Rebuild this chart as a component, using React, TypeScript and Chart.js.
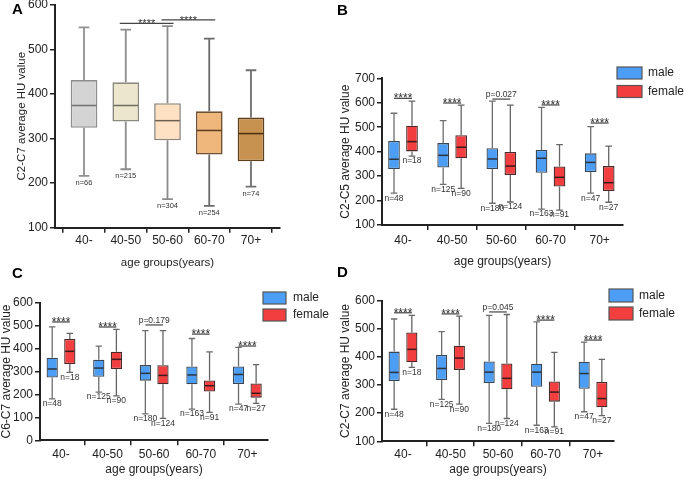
import React, { useEffect, useRef } from 'react';
import { Chart, registerables } from 'chart.js';
Chart.register(...registerables);

// ---------------- DATA ----------------
const ageGroups = ['40-', '40-50', '50-60', '60-70', '70+'];
const seriesNames = ['male', 'female'];

// Panel A: C2-C7, all subjects
const aMin = [216, 231, 164, 149, 192];
const aQ1 = [324, 338, 296, 264, 249];
const aMed = [374, 374, 340, 318, 311];
const aQ3 = [431, 426, 379, 361, 347];
const aMax = [549, 544, 552, 524, 453];
const aN = [66, 215, 304, 254, 74];
const aSigText = ['****', '****'];
const aSigY = [558, 566];

// Panel B: C2-C5 by sex
const bMaleMin = [230, 266, 189, 165, 230];
const bMaleQ1 = [329, 335, 329, 314, 317];
const bMaleMed = [369, 385, 370, 373, 356];
const bMaleQ3 = [444, 435, 414, 407, 393];
const bMaleMax = [557, 527, 607, 581, 502];
const bFemaleMin = [382, 250, 194, 161, 193];
const bFemaleQ1 = [401, 373, 305, 257, 239];
const bFemaleMed = [441, 418, 341, 295, 273];
const bFemaleQ3 = [506, 467, 399, 339, 341];
const bFemaleMax = [607, 590, 590, 429, 423];
const bSigText = ['****', '****', 'p=0.027', '****', '****'];
const bSigY = [618, 599, 615, 591, 517];

// Panel C: C6-C7 by sex
const cMaleMin = [181, 210, 115, 136, 158];
const cMaleQ1 = [274, 277, 260, 244, 245];
const cMaleMed = [311, 315, 292, 285, 287];
const cMaleQ3 = [360, 351, 328, 322, 322];
const cMaleMax = [495, 411, 478, 444, 405];
const cFemaleMin = [296, 194, 96, 122, 161];
const cFemaleQ1 = [333, 311, 244, 213, 186];
const cFemaleMed = [388, 353, 283, 238, 205];
const cFemaleQ3 = [442, 386, 327, 261, 248];
const cFemaleMax = [466, 484, 478, 386, 330];
const cSigText = ['****', '****', 'p=0.179', '****', '****'];
const cSigY = [516, 494, 503, 463, 411];

// Panel D: C2-C7 by sex
const dMaleMin = [214, 249, 164, 157, 205];
const dMaleQ1 = [314, 318, 307, 294, 287];
const dMaleMed = [345, 359, 346, 346, 341];
const dMaleQ3 = [419, 407, 384, 376, 383];
const dMaleMax = [535, 490, 548, 525, 453];
const dFemaleMin = [363, 232, 181, 151, 191];
const dFemaleQ1 = [381, 354, 285, 241, 221];
const dFemaleMed = [427, 396, 324, 275, 252];
const dFemaleQ3 = [487, 440, 377, 313, 311];
const dFemaleMax = [548, 545, 551, 416, 391];
const dSigText = ['****', '****', 'p=0.045', '****', '****'];
const dSigY = [557, 553, 560, 531, 460];

const maleN = [48, 125, 180, 163, 47];
const femaleN = [18, 90, 124, 91, 27];

// ---------------- STYLE ----------------
const FONT = '"Liberation Sans", Arial, Helvetica, sans-serif';
const M = 40;
const PW = 685;
const PH = 480;
const MALE = '#4c9ef4';
const FEMALE = '#f23e3e';

type Stats = { min: number[]; q1: number[]; med: number[]; q3: number[]; max: number[]; n: number[] };
type Series = { label: string; stats: Stats; fill: any; border: any; whisker: any; median: any };
type Sig = { a: [number, number]; b: [number, number]; y: number; text: string; ext: number };
type Cfg = {
  letter: string; lx: number; ly: number;
  area: { l: number; t: number; r: number; b: number };
  yMin: number; yMax: number; xMin: number; xMax: number;
  yw: number; xh: number; yTitle: string; titleSize: number; xTickPad: number;
  series: Series[]; cp: number; bp: number;
  nFont: number; nOffset: number; capRatio: number; whiskerWidth: number; boxBorder: number;
  sig: Sig[]; starFont: number; pFont: number;
  legend?: { x: number; y: number; w: number; h: number; gap: number; tx: number };
};

const pick = (c: any, i: number) => (Array.isArray(c) ? c[i] : c);

const st = (min: number[], q1: number[], med: number[], q3: number[], max: number[], n: number[]): Stats => ({ min, q1, med, q3, max, n });

const sexSig = (texts: string[], ys: number[]): Sig[] =>
  texts.map((t, i) => ({ a: [0, i], b: [1, i], y: ys[i], text: t, ext: 0 }));

const sexSeries = (male: Stats, female: Stats): Series[] => [
  { label: seriesNames[0], stats: male, fill: MALE, border: '#3a4654', whisker: '#6e6e6e', median: '#2c3440' },
  { label: seriesNames[1], stats: female, fill: FEMALE, border: '#4a2a2a', whisker: '#666666', median: '#3a1a1a' },
];

const panels: Cfg[] = [
  {
    letter: 'A', lx: 12, ly: 14,
    area: { l: 55, t: 4.7, r: 280, b: 227.7 },
    yMin: 100, yMax: 600, xMin: -0.695, xMax: 4.695,
    yw: 39.9, xh: 42.2, yTitle: 'C2-C7 average HU value', titleSize: 11.5, xTickPad: 1,
    series: [{
      label: 'all', stats: st(aMin, aQ1, aMed, aQ3, aMax, aN),
      fill: ['#d4d4d4', '#ece7cc', '#fde1c2', '#f0b77d', '#c7914f'],
      border: ['#8e8e8e', '#8c8a80', '#8e857a', '#6e5238', '#5e4020'],
      whisker: ['#909090', '#8c8c8c', '#8c8c8c', '#6a6a6a', '#707070'],
      median: ['#707070', '#6e6c60', '#6e6050', '#5a3c1e', '#4a3010'],
    }],
    cp: 0.8, bp: 0.8, nFont: 7.5, nOffset: 7, capRatio: 0.4, whiskerWidth: 1.8, boxBorder: 1.6,
    sig: [
      { a: [0, 1], b: [0, 2], y: aSigY[0], text: aSigText[0], ext: 6 },
      { a: [0, 2], b: [0, 3], y: aSigY[1], text: aSigText[1], ext: 6 },
    ],
    starFont: 11, pFont: 8.5,
  },
  {
    letter: 'B', lx: 337, ly: 15,
    area: { l: 382, t: 78.3, r: 623, b: 225 },
    yMin: 100, yMax: 700, xMin: -0.427, xMax: 4.474,
    yw: 43.2, xh: 44.2, yTitle: 'C2-C5 average HU value', titleSize: 12, xTickPad: 3,
    series: sexSeries(
      st(bMaleMin, bMaleQ1, bMaleMed, bMaleQ3, bMaleMax, maleN),
      st(bFemaleMin, bFemaleQ1, bFemaleMed, bFemaleQ3, bFemaleMax, femaleN)),
    cp: 0.732, bp: 0.65, nFont: 8.5, nOffset: 5, capRatio: 0.57, whiskerWidth: 1.3, boxBorder: 1.3,
    sig: sexSig(bSigText, bSigY), starFont: 12, pFont: 8.5,
    legend: { x: 617, y: 67, w: 25, h: 12, gap: 18.5, tx: 648 },
  },
  {
    letter: 'C', lx: 12, ly: 278,
    area: { l: 40, t: 302.7, r: 268, b: 440.3 },
    yMin: 0, yMax: 600, xMin: -0.451, xMax: 4.444,
    yw: 40.2, xh: 36.9, yTitle: 'C6-C7 average HU value', titleSize: 12, xTickPad: 2.5,
    series: sexSeries(
      st(cMaleMin, cMaleQ1, cMaleMed, cMaleQ3, cMaleMax, maleN),
      st(cFemaleMin, cFemaleQ1, cFemaleMed, cFemaleQ3, cFemaleMax, femaleN)),
    cp: 0.756, bp: 0.64, nFont: 8.5, nOffset: 5, capRatio: 0.57, whiskerWidth: 1.3, boxBorder: 1.3,
    sig: sexSig(cSigText, cSigY), starFont: 12, pFont: 8.5,
    legend: { x: 263, y: 292, w: 23, h: 12, gap: 17, tx: 293 },
  },
  {
    letter: 'D', lx: 337, ly: 277,
    area: { l: 382, t: 300.7, r: 614, b: 441.3 },
    yMin: 100, yMax: 600, xMin: -0.442, xMax: 4.442,
    yw: 43.2, xh: 35.9, yTitle: 'C2-C7 average HU value', titleSize: 12, xTickPad: 1.5,
    series: sexSeries(
      st(dMaleMin, dMaleQ1, dMaleMed, dMaleQ3, dMaleMax, maleN),
      st(dFemaleMin, dFemaleQ1, dFemaleMed, dFemaleQ3, dFemaleMax, femaleN)),
    cp: 0.745, bp: 0.63, nFont: 8.5, nOffset: 5, capRatio: 0.57, whiskerWidth: 1.3, boxBorder: 1.3,
    sig: sexSig(dSigText, dSigY), starFont: 12, pFont: 8.5,
    legend: { x: 609, y: 289, w: 24, h: 13, gap: 18, tx: 639 },
  },
];

function makePlugin(cfg: Cfg) {
  return {
    id: 'boxExtras' + cfg.letter,
    afterDatasetsDraw(chart: any) {
      const ctx: CanvasRenderingContext2D = chart.ctx;
      const ys = chart.scales.y;
      cfg.series.forEach((s, si) => {
        const meta = chart.getDatasetMeta(si);
        meta.data.forEach((el: any, i: number) => {
          const cx = el.x;
          const w = el.width;
          const cap = w * cfg.capRatio;
          const pMin = ys.getPixelForValue(s.stats.min[i]);
          const pQ1 = ys.getPixelForValue(s.stats.q1[i]);
          const pMed = ys.getPixelForValue(s.stats.med[i]);
          const pQ3 = ys.getPixelForValue(s.stats.q3[i]);
          const pMax = ys.getPixelForValue(s.stats.max[i]);
          ctx.save();
          ctx.strokeStyle = pick(s.whisker, i);
          ctx.lineWidth = cfg.whiskerWidth;
          ctx.beginPath();
          ctx.moveTo(cx, pQ3); ctx.lineTo(cx, pMax);
          ctx.moveTo(cx - cap / 2, pMax); ctx.lineTo(cx + cap / 2, pMax);
          ctx.moveTo(cx, pQ1); ctx.lineTo(cx, pMin);
          ctx.moveTo(cx - cap / 2, pMin); ctx.lineTo(cx + cap / 2, pMin);
          ctx.stroke();
          ctx.strokeStyle = pick(s.median, i);
          ctx.lineWidth = 1.5;
          ctx.beginPath();
          ctx.moveTo(cx - w / 2 + 1, pMed); ctx.lineTo(cx + w / 2 - 1, pMed);
          ctx.stroke();
          ctx.fillStyle = '#333';
          ctx.font = `${cfg.nFont}px ${FONT}`;
          ctx.textAlign = 'center';
          ctx.textBaseline = 'middle';
          ctx.fillText('n=' + s.stats.n[i], cx, pMin + cfg.nOffset);
          ctx.restore();
        });
      });
      // significance
      cfg.sig.forEach((sg) => {
        const e1 = chart.getDatasetMeta(sg.a[0]).data[sg.a[1]];
        const e2 = chart.getDatasetMeta(sg.b[0]).data[sg.b[1]];
        const x1 = e1.x - sg.ext;
        const x2 = e2.x + sg.ext;
        const py = ys.getPixelForValue(sg.y);
        ctx.save();
        ctx.strokeStyle = '#444';
        ctx.lineWidth = 1.2;
        ctx.beginPath(); ctx.moveTo(x1, py); ctx.lineTo(x2, py); ctx.stroke();
        ctx.fillStyle = '#333';
        ctx.textAlign = 'center';
        ctx.textBaseline = 'alphabetic';
        const star = sg.text.startsWith('*');
        ctx.font = `${star ? cfg.starFont : cfg.pFont}px ${FONT}`;
        ctx.fillText(sg.text, (x1 + x2) / 2, star ? py + 4 : py - 2);
        ctx.restore();
      });
      // legend
      if (cfg.legend) {
        const lg = cfg.legend;
        cfg.series.forEach((s, si) => {
          const x = lg.x + M;
          const y = lg.y + M + si * lg.gap;
          ctx.save();
          ctx.fillStyle = pick(s.fill, 0);
          ctx.fillRect(x, y, lg.w, lg.h);
          ctx.strokeStyle = '#555';
          ctx.lineWidth = 1.2;
          ctx.strokeRect(x, y, lg.w, lg.h);
          ctx.fillStyle = '#222';
          ctx.font = `12px ${FONT}`;
          ctx.textAlign = 'left';
          ctx.textBaseline = 'middle';
          ctx.fillText(s.label, lg.tx + M, y + lg.h / 2);
          ctx.restore();
        });
      }
      // panel letter
      ctx.save();
      ctx.fillStyle = '#000';
      ctx.font = `bold 15px ${FONT}`;
      ctx.textAlign = 'left';
      ctx.textBaseline = 'alphabetic';
      ctx.fillText(cfg.letter, cfg.lx + M, cfg.ly + M);
      ctx.restore();
    },
  };
}

function Panel({ cfg }: { cfg: Cfg }) {
  const ref = useRef<HTMLCanvasElement>(null);
  useEffect(() => {
    if (!ref.current) return;
    const a = cfg.area;
    const chart = new Chart(ref.current, {
      type: 'bar',
      data: {
        datasets: cfg.series.map((s) => ({
          label: s.label,
          data: s.stats.q1.map((q, i) => ({ x: i, y: [q, s.stats.q3[i]] })) as any,
          backgroundColor: s.fill,
          borderColor: s.border,
          borderWidth: cfg.boxBorder,
          borderSkipped: false,
          categoryPercentage: cfg.cp,
          barPercentage: cfg.bp,
        })),
      },
      options: {
        responsive: false,
        animation: false,
        devicePixelRatio: 1,
        layout: {
          padding: {
            left: a.l + M - cfg.yw,
            top: a.t + M,
            right: PW + M - a.r,
            bottom: PH + M - a.b - cfg.xh,
          },
        },
        plugins: { legend: { display: false }, tooltip: { enabled: false } },
        scales: {
          x: {
            type: 'linear',
            min: cfg.xMin,
            max: cfg.xMax,
            offset: false,
            afterBuildTicks: (sc: any) => { sc.ticks = ageGroups.map((_, i) => ({ value: i })); },
            afterFit: (sc: any) => { sc.height = cfg.xh; },
            ticks: {
              callback: (v: any) => ageGroups[Math.round(Number(v))],
              font: { size: 12, family: FONT },
              color: '#222',
              padding: cfg.xTickPad,
              maxRotation: 0,
              autoSkip: false,
            },
            grid: { display: true, drawOnChartArea: false, drawTicks: true, tickLength: 5, color: '#222', lineWidth: 1.5 },
            border: { display: true, color: '#222', width: 2 },
            title: { display: true, text: 'age groups(years)', font: { size: cfg.titleSize, family: FONT }, color: '#222', padding: 0 },
          },
          y: {
            type: 'linear',
            min: cfg.yMin,
            max: cfg.yMax,
            afterFit: (sc: any) => { sc.width = cfg.yw; },
            ticks: { stepSize: 100, font: { size: 12, family: FONT }, color: '#222', padding: 2 },
            grid: { display: true, drawOnChartArea: false, drawTicks: true, tickLength: 5, color: '#222', lineWidth: 1.5 },
            border: { display: true, color: '#222', width: 2 },
            title: { display: true, text: cfg.yTitle, font: { size: cfg.titleSize, family: FONT }, color: '#222', padding: 0 },
          },
        },
      } as any,
      plugins: [makePlugin(cfg)],
    });
    return () => chart.destroy();
  }, [cfg]);
  return (
    <canvas
      ref={ref}
      width={PW + 2 * M}
      height={PH + 2 * M}
      style={{ position: 'absolute', left: -M, top: -M, width: PW + 2 * M, height: PH + 2 * M }}
    />
  );
}

export default function App() {
  return (
    <div style={{ position: 'absolute', left: 0, top: 0, width: PW, height: PH, overflow: 'hidden', background: '#fff' }}>
      {panels.map((p) => (
        <Panel key={p.letter} cfg={p} />
      ))}
    </div>
  );
}
